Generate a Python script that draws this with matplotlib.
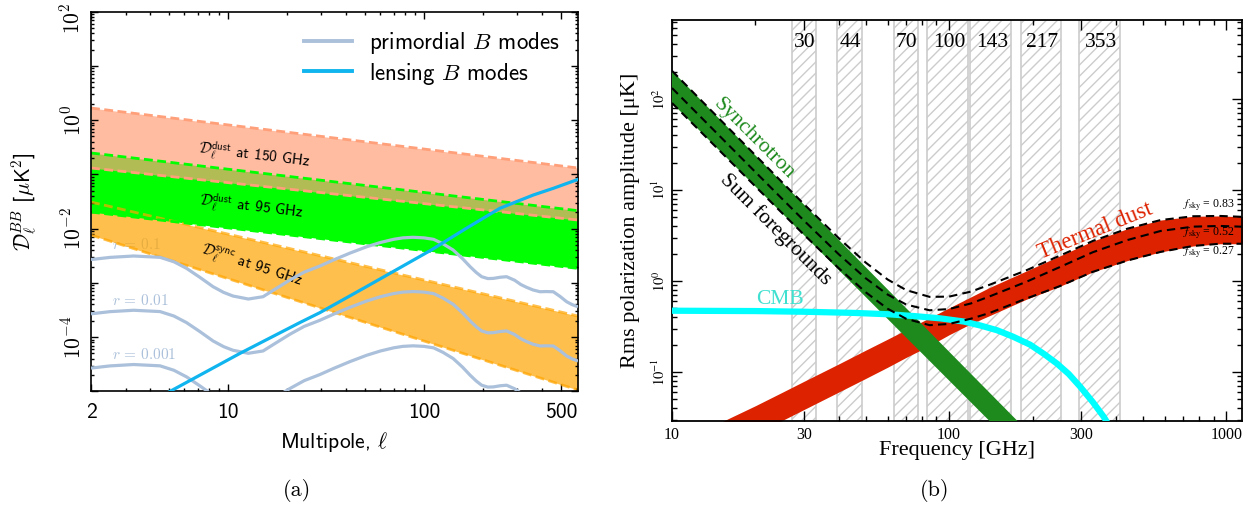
import numpy as np
import matplotlib
matplotlib.use("Agg")
import matplotlib.pyplot as plt
from matplotlib.ticker import LogLocator, NullFormatter
from matplotlib.lines import Line2D
from matplotlib.transforms import blended_transform_factory

plt.rcParams['mathtext.fontset'] = 'cm'
plt.rcParams['axes.unicode_minus'] = False
plt.rcParams['hatch.linewidth'] = 1.0

SANS = 'cmss10'
SERIF = 'Liberation Serif'

# ---------------- (a) B-mode angular power spectra ----------------
ell_band = [2, 611]
dust150_hi = [1.67, 0.131]
dust150_lo = [0.131, 0.0144]
dust95_hi = [0.248, 0.0214]
dust95_lo = [0.0202, 0.00185]
sync95_hi = [0.0309, 0.000245]
sync95_lo = [0.00762, 0.0000106]

# primordial BB spectrum for r = 0.1 (scaled linearly with r)
ell_prim = [2, 2.5, 3.3, 4.5, 5.3, 6.15, 7.2, 8.4, 9.5, 10.6, 12.7, 15.1, 17.5,
            20.7, 24.5, 29.4, 34.5, 42, 51, 60, 70, 78, 88, 100, 112, 125, 141,
            157, 172, 185, 197, 212, 226, 245, 264, 290, 312, 334, 360, 391,
            420, 457, 495, 535, 570, 611]
dl_prim_r01 = [2.69e-3, 2.95e-3, 3.13e-3, 2.96e-3, 2.45e-3, 1.85e-3, 1.26e-3,
               8.49e-4, 6.68e-4, 5.73e-4, 5.04e-4, 5.56e-4, 7.76e-4, 1.13e-3,
               1.58e-3, 2.04e-3, 2.64e-3, 3.55e-3, 4.63e-3, 5.56e-3, 6.35e-3,
               6.76e-3, 6.92e-3, 6.76e-3, 6.35e-3, 5.25e-3, 4.03e-3, 2.82e-3,
               1.99e-3, 1.55e-3, 1.30e-3, 1.20e-3, 1.21e-3, 1.27e-3, 1.30e-3,
               1.12e-3, 9.33e-4, 8.28e-4, 7.41e-4, 6.87e-4, 6.92e-4, 6.87e-4,
               5.62e-4, 4.49e-4, 3.98e-4, 3.63e-4]
r_values = [0.1, 0.01, 0.001]
r_labels = ['$r\\,=\\,0.1$', '$r\\,=\\,0.01$', '$r\\,=\\,0.001$']

ell_lens = [4, 5.06, 11.5, 23.3, 29.4, 50, 109, 165, 244, 361, 457, 613]
dl_lens = [6.31e-6, 1.0e-5, 5.01e-5, 1.86e-4, 2.82e-4, 8.22e-4, 4.04e-3,
           0.0102, 0.0237, 0.0416, 0.0553, 0.0811]

# ---------------- (b) foreground amplitudes vs frequency ----------------
planck_freqs = [30, 44, 70, 100, 143, 217, 353]
band_lo = [27, 39.5, 63, 83.5, 119, 181, 295]
band_hi = [33, 48.5, 77, 117, 167, 253, 413]

synch_freq = [10, 1150]
synch_083 = [204, 8.93e-5]
synch_052 = [132, 6.24e-5]
synch_027 = [90.4, 4.71e-5]

dust_freq = [10, 16, 20, 25, 30, 40, 50, 60, 70, 85, 100, 120, 140, 190, 250,
             330, 440, 580, 760, 950, 1150]
dust_083 = [0.0151, 0.0309, 0.0427, 0.060, 0.0794, 0.123, 0.174, 0.230, 0.292,
            0.394, 0.507, 0.671, 0.851, 1.29, 1.88, 2.75, 3.76, 4.68, 5.15,
            5.19, 5.07]
dust_052 = [0.0112, 0.0229, 0.0316, 0.0445, 0.0589, 0.0914, 0.129, 0.171,
            0.216, 0.292, 0.380, 0.504, 0.638, 0.966, 1.41, 2.07, 2.82, 3.55,
            3.96, 4.03, 3.95]
dust_027 = [0.00724, 0.0148, 0.0209, 0.0294, 0.0389, 0.0604, 0.0851, 0.113,
            0.145, 0.195, 0.257, 0.340, 0.417, 0.631, 0.871, 1.26, 1.68, 2.09,
            2.43, 2.57, 2.57]

cmb_freq = [10, 20, 30, 45, 60, 75, 93, 113, 130, 149, 170, 196, 220, 245, 270,
            297, 330, 361, 380]
cmb_amp = [0.472, 0.468, 0.460, 0.447, 0.432, 0.412, 0.389, 0.359, 0.324,
           0.288, 0.245, 0.200, 0.158, 0.124, 0.0955, 0.0692, 0.0468, 0.0324,
           0.0251]

fsky_labels = ['0.83', '0.52', '0.27']

fig = plt.figure(figsize=(12.52, 5.08), dpi=100)
axa = fig.add_axes([0.07268, 0.22953, 0.38898, 0.74764])
axb = fig.add_axes([0.53674, 0.17126, 0.45527, 0.78937])

# ======================= panel (a) =======================
axa.set_xscale('log')
axa.set_yscale('log')
axa.set_xlim(2, 611)
axa.set_ylim(1e-5, 1e2)

ORANGE = '#ffa500'
LIME = '#00ff00'
SALMON = '#ffa07a'
PRIM = '#abc0da'
LENS = '#10b4ee'

axa.fill_between(ell_band, sync95_lo, sync95_hi, color=ORANGE, alpha=0.7,
                 lw=0, zorder=1.0)
axa.fill_between(ell_band, dust95_lo, dust95_hi, color=LIME, lw=0, zorder=1.1)
axa.fill_between(ell_band, dust150_lo, dust150_hi, color=SALMON, alpha=0.7,
                 lw=0, zorder=1.2)
dash = (0, (3.2, 1.6))
for lo, hi, c, a in [(sync95_lo, sync95_hi, ORANGE, 0.7),
                     (dust95_lo, dust95_hi, LIME, 1.0),
                     (dust150_lo, dust150_hi, SALMON, 1.0)]:
    for edge in (lo, hi):
        axa.plot(ell_band, edge, color=c, alpha=a, lw=2.0, ls=dash, zorder=2)

label_kw = dict(fontfamily=SANS, fontsize=11, ha='center', va='center',
                zorder=3, rotation_mode='anchor')
axa.text(13.6, 0.226, '$\\mathcal{D}_\\ell^{\\mathsf{dust}}$ at 150 GHz',
         rotation=-7, **label_kw)
axa.text(13.1, 0.025, '$\\mathcal{D}_\\ell^{\\mathsf{dust}}$ at 95 GHz',
         rotation=-7, **label_kw)
axa.text(13.1, 2.0e-3, '$\\mathcal{D}_\\ell^{\\mathsf{sync}}$ at 95 GHz',
         rotation=-18, **label_kw)

prim = np.array(dl_prim_r01)
for r, lab, ypos in zip(r_values, r_labels, [5.0e-3, 4.8e-4, 4.7e-5]):
    axa.plot(ell_prim, prim * r / 0.1, color=PRIM, lw=2.3, zorder=4,
             solid_capstyle='butt')
    axa.text(2.56, ypos, lab, color=PRIM, fontsize=11, ha='left',
             va='center', zorder=0.5)
axa.plot(ell_lens, dl_lens, color=LENS, lw=2.3, zorder=5)

handles = [Line2D([], [], color=PRIM, lw=2.8), Line2D([], [], color=LENS, lw=2.8)]
axa.legend(handles, ['primordial $B$ modes', 'lensing $B$ modes'],
           loc='upper right', frameon=False, handlelength=2.1,
           handletextpad=0.75, labelspacing=0.2, borderaxespad=0.4,
           prop={'family': SANS, 'size': 16.5})

axa.set_xticks([2, 10, 100, 500])
axa.set_xticklabels(['2', '10', '100', '500'], fontfamily=SANS, fontsize=15.5)
axa.xaxis.set_minor_locator(LogLocator(base=10, subs=np.arange(2, 10), numticks=20))
axa.xaxis.set_minor_formatter(NullFormatter())
ydec = list(range(-5, 3))
axa.set_yticks([10.0 ** e for e in ydec])


def sf_power(e):
    if e < 0:
        return '$\\mathsf{10}^{-\\mathsf{%d}}$' % (-e)
    return '$\\mathsf{10}^{\\mathsf{%d}}$' % e


# even decades are labelled; the top one is placed by hand so it stays inside
ylabs = [sf_power(e) if (e % 2 == 0 and e < 2) else '' for e in ydec]
axa.set_yticklabels(ylabs, fontsize=15.5, rotation=90, va='center')
axa.text(-0.039, 0.981, sf_power(2), transform=axa.transAxes, fontsize=15.5,
         rotation=90, ha='center', va='center')
axa.yaxis.set_minor_locator(LogLocator(base=10, subs=np.arange(2, 10), numticks=20))
axa.yaxis.set_minor_formatter(NullFormatter())
axa.tick_params(which='both', direction='in', top=True, right=True, width=1.0)
axa.tick_params(which='major', length=5)
axa.tick_params(which='minor', length=2.5)
axa.tick_params(axis='x', pad=8)
axa.tick_params(axis='y', pad=5)
for s in axa.spines.values():
    s.set_linewidth(1.2)

axa.set_xlabel('Multipole, $\\ell$', fontfamily=SANS, fontsize=15.5)
axa.set_ylabel('$\\mathcal{D}_\\ell^{BB}$ [$\\mu$K$^{\\mathsf{2}}$]',
               fontfamily=SANS, fontsize=15.5)
axa.xaxis.set_label_coords(0.5, -0.102)
axa.yaxis.set_label_coords(-0.105, 0.5)

# ======================= panel (b) =======================
axb.set_xscale('log')
axb.set_yscale('log')
axb.set_xlim(10, 1140)
axb.set_ylim(0.029, 738)

for lo, hi in zip(band_lo, band_hi):
    axb.axvspan(lo, hi, facecolor='white', edgecolor='#cccccc', hatch='///',
                lw=1.2, zorder=0)
top_tr = blended_transform_factory(axb.transData, axb.transAxes)
for f in planck_freqs:
    axb.text(f, 0.943, str(f), transform=top_tr, fontfamily=SERIF,
             fontsize=15.5, ha='center', va='center', zorder=6)

RED = '#dd2200'
FGREEN = '#1e8a1e'
axb.fill_between(dust_freq, dust_027, dust_083, color=RED, lw=0, zorder=2)
axb.fill_between(synch_freq, synch_027, synch_083, color=FGREEN, lw=0, zorder=3)
axb.plot(cmb_freq, cmb_amp, color='#00ffff', lw=4.5, zorder=4,
         solid_capstyle='butt')

lf = np.log10(dust_freq)
lsf = np.log10(synch_freq)
for s_amp, d_amp in [(synch_083, dust_083), (synch_052, dust_052),
                     (synch_027, dust_027)]:
    s_at = 10 ** np.interp(lf, lsf, np.log10(s_amp))
    total = s_at + np.array(d_amp)
    axb.plot(dust_freq, total, color='black', lw=1.5, ls=(0, (4, 2.5)), zorder=5)

axb.text(19.8, 36.3, 'Synchrotron', color=FGREEN, fontfamily=SERIF,
         fontsize=15.5, rotation=-45, ha='center', va='center',
         rotation_mode='anchor', zorder=6)
axb.text(23.6, 3.64, 'Sum foregrounds', color='black', fontfamily=SERIF,
         fontsize=15.5, rotation=-45, ha='center', va='center',
         rotation_mode='anchor', zorder=6)
axb.text(24.5, 0.634, 'CMB', color='#40e0d0', fontfamily=SERIF,
         fontsize=15.5, ha='center', va='center', zorder=6)
axb.text(336, 3.54, 'Thermal dust', color=RED, fontfamily=SERIF,
         fontsize=16.5, rotation=22, ha='center', va='center',
         rotation_mode='anchor', zorder=6)
for lab, ypos in zip(fsky_labels, [6.84, 3.37, 2.08]):
    t = axb.text(1069, ypos, '$f_{\\rm sky}$ = ' + lab, fontfamily=SERIF,
                 fontsize=8.5, ha='right', va='center', zorder=6)
    t.set_math_fontfamily('stix')

axb.set_xticks([10, 30, 100, 300, 1000])
axb.set_xticklabels(['10', '30', '100', '300', '1000'], fontfamily=SERIF,
                    fontsize=11.5)
axb.xaxis.set_minor_locator(LogLocator(base=10, subs=np.arange(2, 10), numticks=20))
axb.xaxis.set_minor_formatter(NullFormatter())
axb.set_yticks([0.1, 1, 10, 100])
axb.set_yticklabels(['$10^{-1}$', '$10^{0}$', '$10^{1}$', '$10^{2}$'],
                    fontsize=10.5, rotation=90, va='center',
                    math_fontfamily='stix')
axb.yaxis.set_minor_locator(LogLocator(base=10, subs=np.arange(2, 10), numticks=20))
axb.yaxis.set_minor_formatter(NullFormatter())
axb.tick_params(which='both', direction='in', top=True, right=True, width=1.0)
axb.tick_params(which='major', length=7)
axb.tick_params(which='minor', length=3.5)
axb.tick_params(axis='x', pad=4)
axb.tick_params(axis='y', pad=3)
for s in axb.spines.values():
    s.set_linewidth(1.3)

axb.set_xlabel('Frequency [GHz]', fontfamily=SERIF, fontsize=16)
axb.set_ylabel('Rms polarization amplitude [\u03bcK]', fontfamily=SERIF,
               fontsize=16)
axb.xaxis.set_label_coords(0.5, -0.05)
axb.yaxis.set_label_coords(-0.056, 0.5)

fig.text(297 / 1252, 1 - 490 / 508, '(a)', fontfamily='cmr10', fontsize=16,
         ha='center', va='center')
fig.text(935 / 1252, 1 - 490 / 508, '(b)', fontfamily='cmr10', fontsize=16,
         ha='center', va='center')

fig.savefig('out.png', dpi=100)
